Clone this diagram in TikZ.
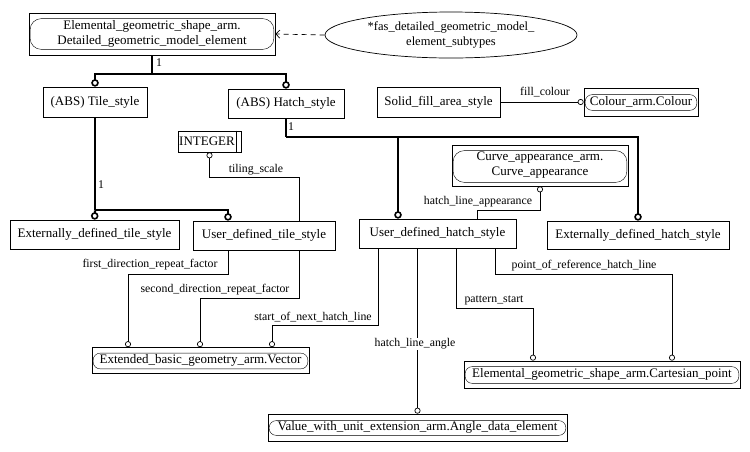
\documentclass[tikz,border=0pt]{standalone}
\usepackage{fontspec}
\setmainfont{Liberation Serif}
\usetikzlibrary{arrows.meta,shapes.geometric,calc}
\newcommand\myinnerbox[4]{\draw[rounded corners=#4] ([xshift=1.5pt,yshift=-#2]#1.north west) rectangle ([xshift=-1.5pt,yshift=#3]#1.south east);}
\begin{document}
\begin{tikzpicture}[x=1pt,y=-1pt,
  box/.style={draw, line width=0.7pt, inner sep=0pt, font=\fontsize{13}{15}\selectfont, align=center},
  lbl/.style={inner sep=1pt, font=\fontsize{11.8}{13}\selectfont},
  conn/.style={draw, line width=0.7pt, -{Circle[open,length=6pt,width=6pt,line width=0.7pt]}},
  sline/.style={draw, line width=2.2pt},
  sconn/.style={draw, line width=2.2pt, -{Circle[open,length=7.5pt,width=7.5pt,line width=1.6pt]}}]
\useasboundingbox (0,0) rectangle (750,451);
% nodes
\node[box, minimum width=246pt, minimum height=42pt] (top) at (152,34) {Elemental\_geometric\_shape\_arm.\\Detailed\_geometric\_model\_element};
\node[box, ellipse, minimum width=252pt, minimum height=46pt, font=\fontsize{12.5}{15}\selectfont] (ell) at (451,35) {*fas\_detailed\_geometric\_model\_\\element\_subtypes};
\node[box, minimum width=104pt, minimum height=30pt] (tile) at (95,102) {(ABS) Tile\_style};
\node[box, minimum width=116pt, minimum height=29pt] (hatch) at (286,103.5) {(ABS) Hatch\_style};
\node[box, minimum width=123pt, minimum height=30pt] (solid) at (438.5,102) {Solid\_fill\_area\_style};
\node[box, minimum width=114pt, minimum height=28pt] (colour) at (641,102) {Colour\_arm.Colour};
\node[box, minimum width=63pt, minimum height=21pt] (integer) at (209.5,141.5) {};
\node[font=\fontsize{13}{15}\selectfont, inner sep=0pt] (intlbl) at (207,141.5) {INTEGER};
\node[box, minimum width=176pt, minimum height=41pt] (curve) at (540,165.5) {Curve\_appearance\_arm.\\Curve\_appearance};
\node[box, minimum width=169pt, minimum height=29pt] (extTile) at (94.5,234.5) {Externally\_defined\_tile\_style};
\node[box, minimum width=142pt, minimum height=29pt] (userTile) at (264,235.5) {User\_defined\_tile\_style};
\node[box, minimum width=157pt, minimum height=29pt] (userHatch) at (437.5,233.5) {User\_defined\_hatch\_style};
\node[box, minimum width=182pt, minimum height=28pt] (extHatch) at (638,235) {Externally\_defined\_hatch\_style};
\node[box, minimum width=217pt, minimum height=26pt] (vector) at (200.5,360.5) {Extended\_basic\_geometry\_arm.Vector};
\node[box, minimum width=276pt, minimum height=27pt] (cart) at (602,374.5) {Elemental\_geometric\_shape\_arm.Cartesian\_point};
\node[box, minimum width=299pt, minimum height=27pt] (angle) at (417.5,427.5) {Value\_with\_unit\_extension\_arm.Angle\_data\_element};
% inner rounded frames
\myinnerbox{top}{6pt}{6pt}{11pt}
\myinnerbox{curve}{6pt}{4pt}{11pt}
\myinnerbox{colour}{7pt}{6pt}{7pt}
\myinnerbox{vector}{6pt}{5pt}{7pt}
\myinnerbox{cart}{6pt}{5pt}{7pt}
\myinnerbox{angle}{7pt}{6pt}{7pt}
\draw[line width=0.7pt] ([xshift=-5pt]integer.north east) -- ([xshift=-5pt]integer.south east);
% dashed
\draw[line width=0.7pt, dashed, dash pattern=on 5pt off 4pt, -{Straight Barb[length=4pt,width=8pt,line width=0.7pt]}] (ell.west) -- (top.east);
% thick trees
\draw[sline] (top.south) -- ++(0,19) coordinate (j1);
\draw[sconn] (j1) -| (tile.north);
\draw[sconn] (j1) -| (hatch.north);
\node[lbl, anchor=west] (one1) at (155,63) {1};
\draw[sline] (tile.south) -- ++(0,93) coordinate (j2);
\draw[sconn] (j2) -- (extTile.north);
\draw[sconn] (j2) -| ([xshift=-36pt]userTile.north);
\node[lbl, anchor=west] (one2) at (97,185) {1};
\draw[sline] (hatch.south) -- ++(0,18.5) coordinate (j3);
\draw[sconn] (j3) -| ([xshift=-39.5pt]userHatch.north);
\draw[sconn] (j3) -| (extHatch.north);
\node[lbl, anchor=west] (one3) at (287,127) {1};
% thin connectors
\draw[conn] (solid.east) -- (colour.west);
\node[lbl] (l1) at (545,92) {fill\_colour};
\draw[conn] ([xshift=35pt]userTile.north) -- ++(0,-43) -| (integer.south);
\node[lbl] (l2) at (256,170) {tiling\_scale};
\draw[conn] ([xshift=39.5pt]userHatch.north) -- ++(0,-8) -| (curve.south);
\node[lbl] (l3) at (478,202) {hatch\_line\_appearance};
\draw[conn] ([xshift=-36pt]userTile.south) -- ++(0,24) -| ([xshift=-72.5pt]vector.north);
\node[lbl] (l4) at (150,265) {first\_direction\_repeat\_factor};
\draw[conn] ([xshift=35pt]userTile.south) -- ++(0,48) -| ([xshift=-0.5pt]vector.north);
\node[lbl] (l5) at (215,290) {second\_direction\_repeat\_factor};
\draw[conn] ([xshift=-59.5pt]userHatch.south) -- ++(0,77) -| ([xshift=71.5pt]vector.north);
\node[lbl] (l6) at (313,317) {start\_of\_next\_hatch\_line};
\draw[conn] (angle.north |- userHatch.south) -- (angle.north);
\node[lbl, fill=white] (l7) at (415,344) {hatch\_line\_angle};
\draw[conn] ([xshift=18.5pt]userHatch.south) -- ++(0,60) -| ([xshift=-69pt]cart.north);
\node[lbl] (l8) at (494,300) {pattern\_start};
\draw[conn] ([xshift=57.5pt]userHatch.south) -- ++(0,26) -| ([xshift=70pt]cart.north);
\node[lbl] (l9) at (584,266) {point\_of\_reference\_hatch\_line};
\end{tikzpicture}
\end{document}
